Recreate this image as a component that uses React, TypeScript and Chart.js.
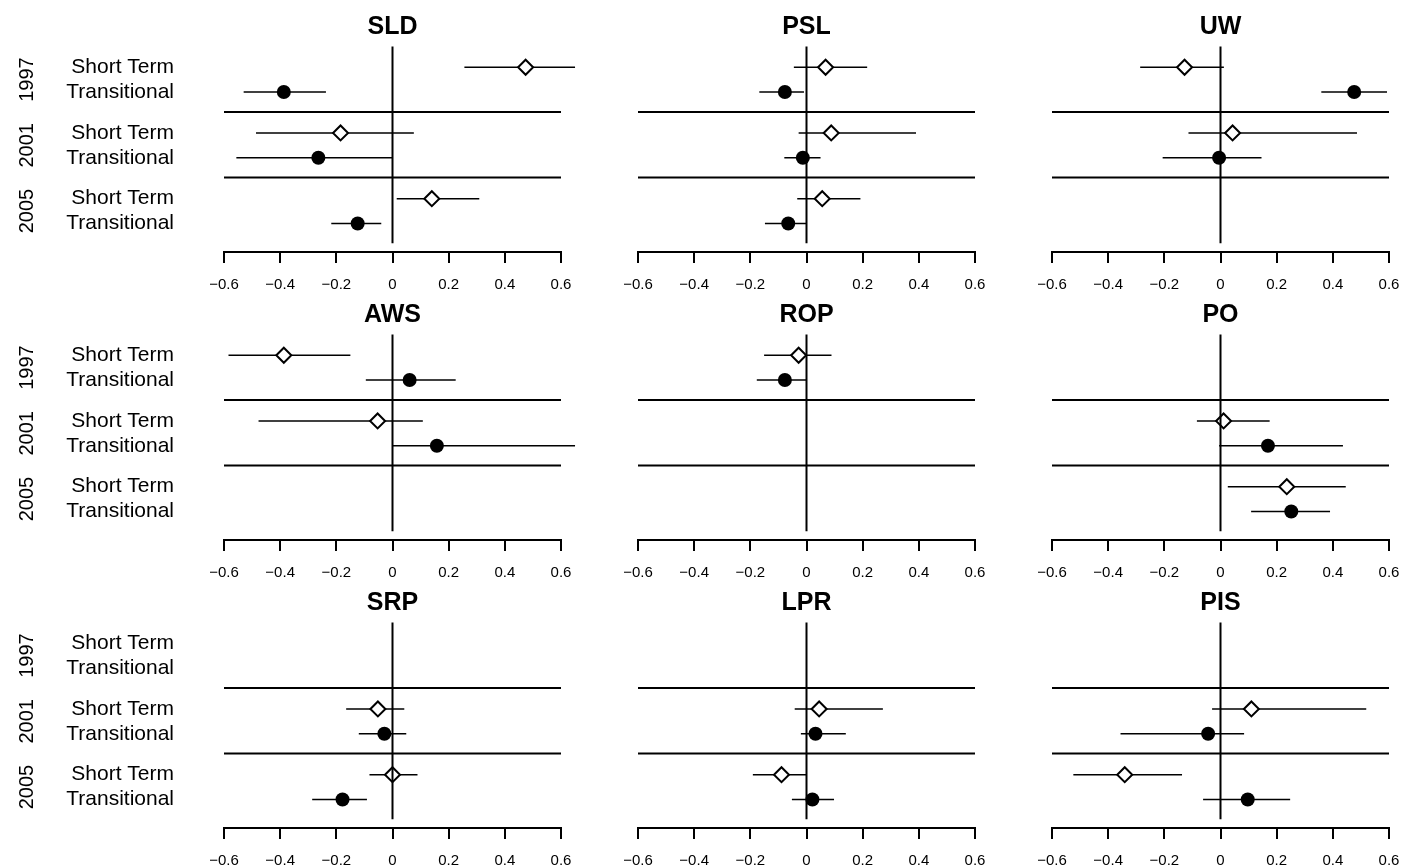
import React, { useEffect, useRef } from "react";
import { Chart, registerables } from "chart.js";

Chart.register(...registerables);

// ---------- data ----------
const PANEL_TITLES = ["SLD", "PSL", "UW", "AWS", "ROP", "PO", "SRP", "LPR", "PIS"];
const YEARS = ["1997", "2001", "2005"];
const TERMS = ["Short Term", "Transitional", "Short Term", "Transitional", "Short Term", "Transitional"];
const X_TICKS = [-0.6, -0.4, -0.2, 0, 0.2, 0.4, 0.6];
const X_TICK_LABELS = ["\u22120.6", "\u22120.4", "\u22120.2", "0", "0.2", "0.4", "0.6"];

// row order: 1997 ST, 1997 T, 2001 ST, 2001 T, 2005 ST, 2005 T
const SLD_EST = [0.474, -0.387, -0.185, -0.264, 0.14, -0.124];
const SLD_LOW = [0.256, -0.53, -0.486, -0.556, 0.015, -0.218];
const SLD_HIGH = [0.65, -0.237, 0.076, 0.0, 0.309, -0.04];

const PSL_EST = [0.068, -0.077, 0.088, -0.013, 0.056, -0.065];
const PSL_LOW = [-0.045, -0.168, -0.028, -0.079, -0.033, -0.148];
const PSL_HIGH = [0.216, -0.009, 0.39, 0.05, 0.192, 0.0];

const UW_EST = [-0.128, 0.476, 0.043, -0.005, null, null];
const UW_LOW = [-0.286, 0.359, -0.114, -0.206, null, null];
const UW_HIGH = [0.012, 0.593, 0.486, 0.146, null, null];

const AWS_EST = [-0.387, 0.061, -0.053, 0.158, null, null];
const AWS_LOW = [-0.584, -0.095, -0.477, 0.0, null, null];
const AWS_HIGH = [-0.15, 0.225, 0.108, 0.65, null, null];

const ROP_EST = [-0.028, -0.077, null, null, null, null];
const ROP_LOW = [-0.151, -0.177, null, null, null, null];
const ROP_HIGH = [0.089, 0.0, null, null, null, null];

const PO_EST = [null, null, 0.011, 0.169, 0.236, 0.252];
const PO_LOW = [null, null, -0.084, -0.005, 0.026, 0.109];
const PO_HIGH = [null, null, 0.175, 0.436, 0.446, 0.39];

const SRP_EST = [null, null, -0.052, -0.029, 0.0, -0.178];
const SRP_LOW = [null, null, -0.165, -0.12, -0.082, -0.286];
const SRP_HIGH = [null, null, 0.042, 0.049, 0.089, -0.091];

const LPR_EST = [null, null, 0.045, 0.032, -0.089, 0.021];
const LPR_LOW = [null, null, -0.042, -0.02, -0.191, -0.052];
const LPR_HIGH = [null, null, 0.272, 0.14, 0.0, 0.098];

const PIS_EST = [null, null, 0.11, -0.044, -0.341, 0.097];
const PIS_LOW = [null, null, -0.03, -0.356, -0.524, -0.062];
const PIS_HIGH = [null, null, 0.519, 0.084, -0.137, 0.248];

const PANEL_DATA = [
  [SLD_EST, SLD_LOW, SLD_HIGH],
  [PSL_EST, PSL_LOW, PSL_HIGH],
  [UW_EST, UW_LOW, UW_HIGH],
  [AWS_EST, AWS_LOW, AWS_HIGH],
  [ROP_EST, ROP_LOW, ROP_HIGH],
  [PO_EST, PO_LOW, PO_HIGH],
  [SRP_EST, SRP_LOW, SRP_HIGH],
  [LPR_EST, LPR_LOW, LPR_HIGH],
  [PIS_EST, PIS_LOW, PIS_HIGH],
];

// ---------- layout (category positions on the y scale) ----------
const ROW_POS = [1, 2, 3.65, 4.65, 6.3, 7.3];
const YEAR_POS = [1.5, 4.15, 6.8];
const SEP_POS = [2.81, 5.45];
const Y_MIN = 0.165;
const Y_MAX = 8.43;
const ZERO_END = 8.1;

const FONT = "'Liberation Sans', Arial, Helvetica, sans-serif";
const COL_AREA_LEFT = [224, 638, 1052];
const ROW_TOP = [0, 288, 576];
const AREA_W = 337;
const PAD = 30;
const CANVAS_H = 294;
const AREA_BOTTOM = 251.5;
const YEAR_AXIS_W = 49.5;

function buildConfig(idx: number) {
  const [est, low, high] = PANEL_DATA[idx];
  const showLabels = idx % 3 === 0;
  const datasets: any[] = [];
  datasets.push({
    data: [{ x: 0, y: Y_MIN }, { x: 0, y: ZERO_END }],
    showLine: true, borderColor: "#000", borderWidth: 2, pointRadius: 0, clip: false,
  });
  const st: any[] = [];
  const tr: any[] = [];
  est.forEach((v: number | null, i: number) => {
    if (v == null) return;
    (i % 2 === 0 ? st : tr).push({ x: v, y: ROW_POS[i] });
  });
  datasets.push({
    data: st, showLine: false, pointStyle: "rectRot", pointRadius: 7.5,
    pointBackgroundColor: "#fff", pointBorderColor: "#000", pointBorderWidth: 2, clip: false,
  });
  datasets.push({
    data: tr, showLine: false, pointStyle: "circle", pointRadius: 7,
    pointBackgroundColor: "#000", pointBorderColor: "#000", pointBorderWidth: 0, clip: false,
  });
  SEP_POS.forEach((y) => {
    datasets.push({
      data: [{ x: -0.6, y }, { x: 0.6, y }],
      showLine: true, borderColor: "#000", borderWidth: 2, pointRadius: 0, clip: false,
    });
  });
  est.forEach((v: number | null, i: number) => {
    if (v == null) return;
    datasets.push({
      data: [{ x: low[i], y: ROW_POS[i] }, { x: high[i], y: ROW_POS[i] }],
      showLine: true, borderColor: "#000", borderWidth: 1.5, pointRadius: 0, clip: false,
    });
  });

  const fitY = (w: number) => (s: any) => {
    if (!showLabels) return;
    s.width = w;
    s.paddingTop = 0;
    s.paddingBottom = 0;
  };

  return {
    type: "scatter",
    data: { datasets },
    options: {
      responsive: false,
      animation: false,
      devicePixelRatio: 1,
      events: [],
      layout: { autoPadding: false, padding: { left: showLabels ? 0 : PAD, right: PAD, top: 0, bottom: 0 } },
      plugins: {
        legend: { display: false },
        tooltip: { enabled: false },
        title: {
          display: true, text: PANEL_TITLES[idx], fullSize: false, color: "#000",
          font: { family: FONT, size: 25, weight: "bold" }, padding: { top: 12, bottom: 4.5 },
        },
      },
      scales: {
        x: {
          type: "linear", min: -0.6, max: 0.6,
          afterBuildTicks: (s: any) => { s.ticks = X_TICKS.map((v) => ({ value: v })); },
          afterFit: (s: any) => { s.height = CANVAS_H - AREA_BOTTOM; },
          ticks: {
            autoSkip: false, maxRotation: 0, padding: 12.5, color: "#000",
            font: { family: FONT, size: 15 },
            callback: (_v: any, i: number) => X_TICK_LABELS[i],
          },
          grid: { drawOnChartArea: false, drawTicks: true, tickLength: 11.5, color: "#000", lineWidth: 2 },
          border: { display: true, color: "#000", width: 2 },
        },
        y: {
          type: "linear", reverse: true, min: Y_MIN, max: Y_MAX, position: "left", weight: 0,
          display: showLabels,
          afterBuildTicks: (s: any) => { s.ticks = ROW_POS.map((v) => ({ value: v })); },
          afterFit: fitY(COL_AREA_LEFT[0] - YEAR_AXIS_W),
          ticks: {
            autoSkip: false, padding: 50, color: "#000", crossAlign: "near",
            font: { family: FONT, size: 21 },
            callback: (_v: any, i: number) => TERMS[i],
          },
          grid: { display: false, drawTicks: false, tickLength: 0 },
          border: { display: false },
        },
        yy: {
          type: "linear", reverse: true, min: Y_MIN, max: Y_MAX, position: "left", weight: 1,
          display: showLabels,
          afterBuildTicks: (s: any) => { s.ticks = YEAR_POS.map((v) => ({ value: v })); },
          afterFit: fitY(YEAR_AXIS_W),
          ticks: {
            autoSkip: false, padding: 0, color: "#000", crossAlign: "center",
            minRotation: 90, maxRotation: 90,
            font: { family: FONT, size: 20 },
            callback: (_v: any, i: number) => YEARS[i],
          },
          grid: { display: false, drawTicks: false, tickLength: 0 },
          border: { display: false },
        },
      },
    },
  } as any;
}

function Panel({ idx }: { idx: number }) {
  const ref = useRef<HTMLCanvasElement | null>(null);
  const col = idx % 3;
  const row = Math.floor(idx / 3);
  const left = col === 0 ? 0 : COL_AREA_LEFT[col] - PAD;
  const width = col === 0 ? COL_AREA_LEFT[0] + AREA_W + PAD : PAD + AREA_W + PAD;
  useEffect(() => {
    if (!ref.current) return;
    const chart = new Chart(ref.current, buildConfig(idx));
    return () => chart.destroy();
  }, [idx]);
  return (
    <canvas
      ref={ref}
      width={width}
      height={CANVAS_H}
      style={{ position: "absolute", left, top: ROW_TOP[row], width, height: CANVAS_H }}
    />
  );
}

export default function App() {
  return (
    <div
      style={{
        position: "absolute", left: 0, top: 0, width: 1401, height: 866,
        overflow: "hidden", background: "#fff",
      }}
    >
      {PANEL_TITLES.map((_t, i) => (
        <Panel key={i} idx={i} />
      ))}
    </div>
  );
}
